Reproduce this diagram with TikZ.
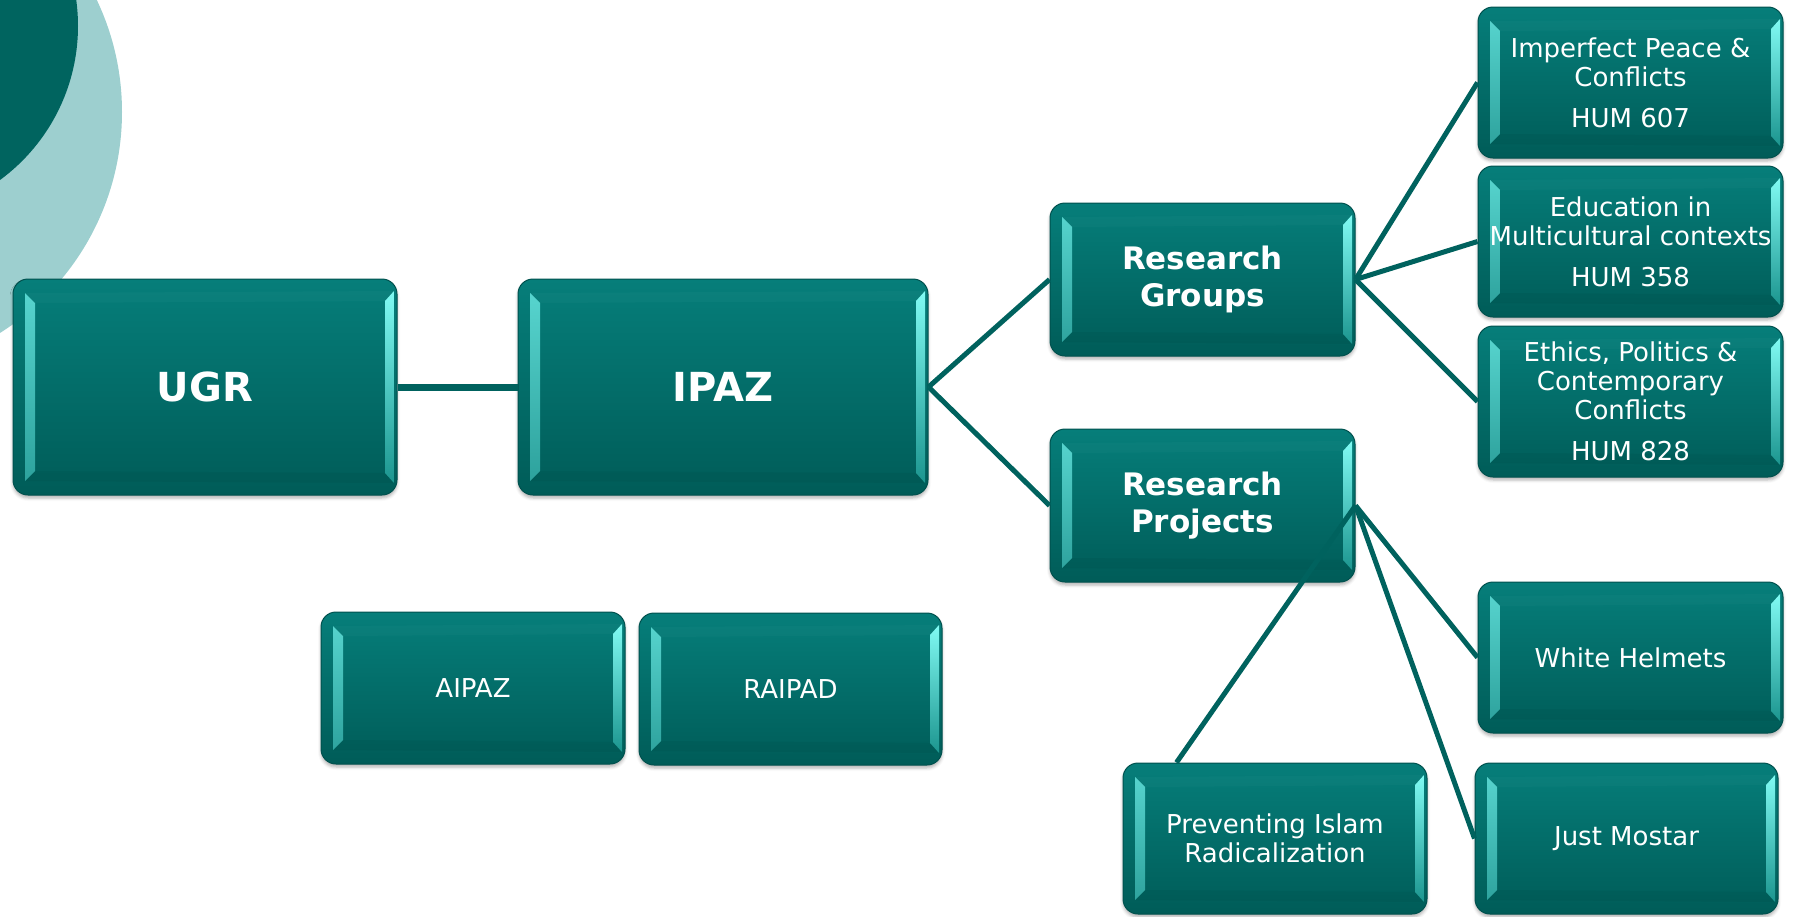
\documentclass[tikz,border=0pt]{standalone}
\usepackage{fontspec}
\setmainfont{DejaVu Sans}
\usetikzlibrary{calc,shadows.blur}
\definecolor{boxtop}{HTML}{067E7A}
\definecolor{boxbot}{HTML}{005C58}
\definecolor{boxborder}{HTML}{00514E}
\definecolor{linkcol}{HTML}{00625E}
\definecolor{circdark}{HTML}{00645F}
\definecolor{circlight}{HTML}{9DCFCF}
\definecolor{bevLtop}{HTML}{5AD8D2}
\definecolor{bevLbot}{HTML}{2A9E99}
\definecolor{bevRtop}{HTML}{80FAF3}
\definecolor{bevRbot}{HTML}{1C958F}
\tikzset{
  bevelbox/.style={rectangle, rounded corners=15pt, draw=boxborder, line width=1pt,
    top color=boxtop, bottom color=boxbot, text=white, align=center, inner sep=0pt,
    blur shadow={shadow xshift=0pt, shadow yshift=-3pt, shadow blur radius=3pt, shadow opacity=30},
    path picture={
      \path[sharp corners, top color=bevLtop, bottom color=bevLbot]
        let \p1=(path picture bounding box.north west), \p2=(path picture bounding box.south east) in
        (\x1+12pt,\y1-14pt) -- (\x1+22pt,\y1-24pt) -- (\x1+22pt,\y2+24pt) -- (\x1+12pt,\y2+14pt) -- cycle;
      \path[sharp corners, top color=bevRtop, bottom color=bevRbot]
        let \p1=(path picture bounding box.north west), \p2=(path picture bounding box.south east) in
        (\x2-3pt,\y1-12pt) -- (\x2-12pt,\y1-22pt) -- (\x2-12pt,\y2+22pt) -- (\x2-3pt,\y2+12pt) -- cycle;
      \fill[sharp corners, white, opacity=0.025]
        let \p1=(path picture bounding box.north west), \p2=(path picture bounding box.south east) in
        (\x1+12pt,\y1-14pt) -- (\x2-3pt,\y1-12pt) -- (\x2-12pt,\y1-22pt) -- (\x1+22pt,\y1-24pt) -- cycle;
      \fill[sharp corners, black, opacity=0.04]
        let \p1=(path picture bounding box.north west), \p2=(path picture bounding box.south east) in
        (\x1+12pt,\y2+14pt) -- (\x2-3pt,\y2+12pt) -- (\x2-12pt,\y2+22pt) -- (\x1+22pt,\y2+24pt) -- cycle;
    }},
  bigbox/.style={bevelbox, minimum width=#1, minimum height=216pt, font=\fontsize{40}{48}\selectfont\bfseries},
  midbox/.style={bevelbox, minimum width=305pt, minimum height=153pt, font=\fontsize{31}{37}\selectfont\bfseries},
  smallbox/.style={bevelbox, minimum width=#1, minimum height=151pt, font=\fontsize{26}{29}\selectfont},
  smallbox/.default=305pt,
  link/.style={draw=linkcol, line width=5pt},
  hlink/.style={draw=linkcol, line width=7pt}
}
\begin{document}
\begin{tikzpicture}[x=1pt,y=-1pt]
\useasboundingbox (0,0) rectangle (1793,916);
\begin{scope}
  \clip (0,0) rectangle (1793,916);
  \fill[circlight] (-139,112) circle (261);
  \fill[circdark] (-113,26) circle (191);
\end{scope}

\node[bigbox=384pt] (ugr) at (205,387) {UGR};
\node[bigbox=410pt] (ipaz) at (723,387) {IPAZ};
\node[midbox] (rg) at (1202.5,279.5) {Research\\Groups};
\node[midbox] (rp) at (1202.5,505.5) {Research\\Projects};
\node[smallbox] (imp) at (1630.5,82.5) {Imperfect Peace \&\\Conflicts\\[12pt]HUM 607};
\node[smallbox] (edu) at (1630.5,241.5) {Education in\\Multicultural contexts\\[12pt]HUM 358};
\node[smallbox] (eth) at (1630.5,401.5) {Ethics, Politics \&\\Contemporary\\Conflicts\\[12pt]HUM 828};
\node[smallbox] (wh) at (1630.5,657.5) {White Helmets};
\node[smallbox=303pt] (jm) at (1626.5,838.5) {Just Mostar};
\node[smallbox=304pt] (prev) at (1275,838.5) {Preventing Islam\\Radicalization};
\node[smallbox=304pt, minimum height=152pt] (aipaz) at (473,688) {AIPAZ};
\node[smallbox=303pt, minimum height=152pt] (raipad) at (790.5,689) {RAIPAD};

\coordinate (prevtop) at ($(prev.north west)+(54pt,0pt)$);

\path[hlink] (ugr.east) -- (ipaz.west);
\path[link] (ipaz.east) -- (rg.west);
\path[link] (ipaz.east) -- (rp.west);
\path[link] (rg.east) -- (imp.west);
\path[link] (rg.east) -- (edu.west);
\path[link] (rg.east) -- (eth.west);
\path[link] (rp.east) -- (wh.west);
\path[link] (rp.east) -- (jm.west);
\path[link] (rp.east) -- (prevtop);
\end{tikzpicture}
\end{document}
